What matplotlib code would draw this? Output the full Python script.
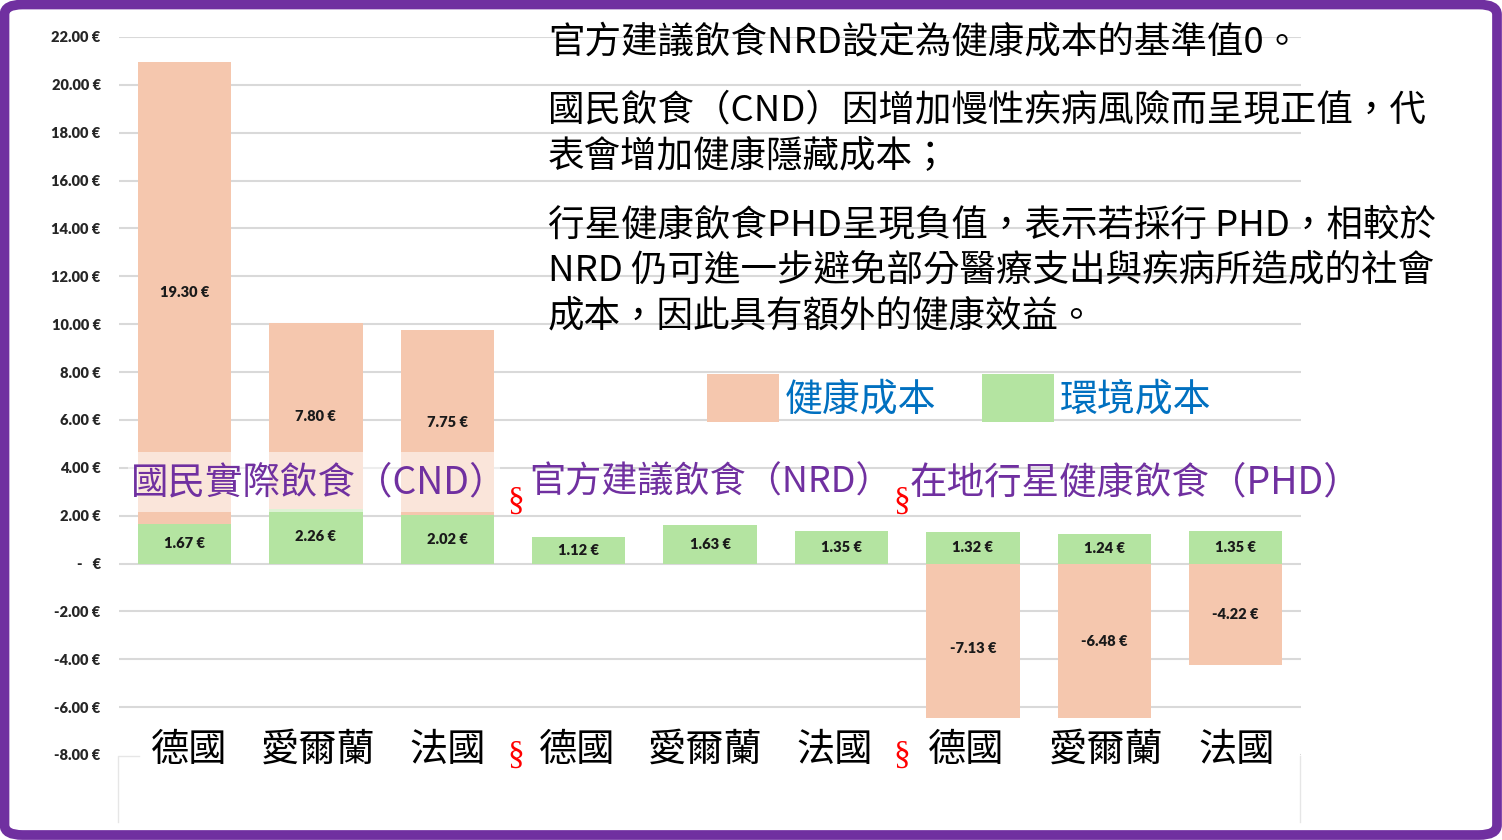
import matplotlib
matplotlib.use("Agg")
import matplotlib.pyplot as plt
from matplotlib.patches import Rectangle, FancyBboxPatch, Patch
from matplotlib.transforms import blended_transform_factory, offset_copy
from matplotlib.lines import Line2D

plt.rcParams['font.family'] = ['Noto Sans CJK TC', 'DejaVu Sans']

# ---------------- data ----------------
countries = ["德國", "愛爾蘭", "法國", "德國", "愛爾蘭", "法國", "德國", "愛爾蘭", "法國"]
groups = ["國民實際飲食（CND）", "官方建議飲食（NRD）", "在地行星健康飲食（PHD）"]
env_cost = [1.67, 2.26, 2.02, 1.12, 1.63, 1.35, 1.32, 1.24, 1.35]
health_cost = [19.30, 7.80, 7.75, 0.0, 0.0, 0.0, -7.13, -6.48, -4.22]
yticks = list(range(-8, 23, 2))
legend_labels = ["健康成本", "環境成本"]
notes = [
    "官方建議飲食NRD設定為健康成本的基準值0。",
    "國民飲食（CND）因增加慢性疾病風險而呈現正值，代",
    "表會增加健康隱藏成本；",
    "行星健康飲食PHD呈現負值，表示若採行 PHD，相較於",
    "NRD 仍可進一步避免部分醫療支出與疾病所造成的社會",
    "成本，因此具有額外的健康效益。",
]

# ---------------- style ----------------
W, H = 1502, 840
PINK = "#F5C7AE"
GREEN = "#B4E4A1"
GRID = "#D9D9D9"
PURPLE = "#7030A0"
BLUE = "#0070C0"
RED = "#FF0000"
LBL_FONT = ["Lato", "DejaVu Sans"]
label_shift_px = [5, 2, 0, -1, -5, -7, -7, 2, 1]

def fx(x):
    return x / W

def fy(y):
    return 1 - y / H

fig = plt.figure(figsize=(W / 100, H / 100), dpi=100)
fig.patch.set_facecolor("white")

ax_left, ax_right, ax_top, ax_bot = 118.8, 1301.4, 37, 755
ax = fig.add_axes([fx(ax_left), fy(ax_bot), (ax_right - ax_left) / W, (ax_bot - ax_top) / H])
ax.set_xlim(-0.5, len(countries) - 0.5)
ax.set_ylim(-8, 22)
for s in ax.spines.values():
    s.set_visible(False)
ax.set_yticks(yticks)
ax.yaxis.grid(True, color=GRID, linewidth=1.5)
ax.set_axisbelow(True)
ax.set_xticks([])
ax.tick_params(axis='y', length=0, pad=13)

def fmt(v):
    if v == 0:
        return "-   €"
    return f"{v:.2f} €"

ax.set_yticklabels([fmt(v) for v in yticks], fontfamily=LBL_FONT,
                   fontweight="heavy", fontsize=10.5, color="#262626")

x = list(range(len(countries)))
bw = 0.71
ax.bar(x, env_cost, width=bw, color=GREEN, zorder=2)
h_bottom = [e if h > 0 else 0 for e, h in zip(env_cost, health_cost)]
ax.bar(x, health_cost, width=bw, bottom=h_bottom, color=PINK, zorder=2)

for i in x:
    ax.text(i, env_cost[i] / 2, fmt(env_cost[i]), ha="center", va="center",
            fontfamily=LBL_FONT, fontweight="heavy", fontsize=10.5, color="#1a1a1a", zorder=3)
    if health_cost[i] != 0:
        ax.text(i, h_bottom[i] + health_cost[i] / 2, fmt(health_cost[i]), ha="center",
                va="center", fontfamily=LBL_FONT, fontweight="heavy", fontsize=10.5,
                color="#1a1a1a", zorder=3)

# white cover at bottom (over plot area)
ax_h = ax_bot - ax_top
def ay(y):
    return (ax_bot - y) / ax_h
def axx(xp):
    return (xp - ax_left) / (ax_right - ax_left)

ax.add_patch(Rectangle((axx(ax_left), ay(828)), axx(1300) - axx(ax_left), ay(718) - ay(828),
                       transform=ax.transAxes, facecolor="white", edgecolor="none",
                       clip_on=False, zorder=4))
# faint outline fragment
ax.add_line(Line2D([axx(118), axx(118), axx(139)], [ay(822), ay(756), ay(756)],
                   transform=ax.transAxes, color="#E6E6E6", lw=1, clip_on=False, zorder=4.5))
ax.add_line(Line2D([axx(1300), axx(1300)], [ay(822), ay(756)],
                   transform=ax.transAxes, color="#E6E6E6", lw=1, clip_on=False, zorder=4.5))

# semi-transparent band behind CND label
ax.add_patch(Rectangle((axx(128), ay(512)), axx(500) - axx(128), ay(452) - ay(512),
                       transform=ax.transAxes, facecolor="white", edgecolor="none",
                       alpha=0.55, clip_on=False, zorder=4))

# country labels
tb = blended_transform_factory(ax.transData, fig.transFigure)
for i, c in enumerate(countries):
    tr = offset_copy(tb, fig=fig, x=label_shift_px[i], y=0, units="dots")
    ax.text(i, fy(750), c, transform=tr, ha="center", va="center", fontsize=27.5,
            color="black", zorder=6, clip_on=False)

# group labels
gx = [131, 529, 910]
gsize = [27, 26.0, 27]
for g, xp, fs in zip(groups, gx, gsize):
    fig.text(fx(xp), fy(483), g, ha="left", va="center", fontsize=fs, color=PURPLE, zorder=7)

for xp in [516, 902]:
    fig.text(fx(xp), fy(502), "§", ha="center", va="center", fontsize=24,
             color=RED, fontfamily="Liberation Serif", zorder=7)
    fig.text(fx(xp), fy(755), "§", ha="center", va="center", fontsize=24,
             color=RED, fontfamily="Liberation Serif", zorder=7)

# notes (top-right)
ny = [42, 110, 157, 226, 271, 317]
for t, yp in zip(notes, ny):
    fig.text(fx(548), fy(yp), t, ha="left", va="center", fontsize=26.3, color="black", zorder=7)

# legend
handles = [Patch(facecolor=PINK, edgecolor="none"), Patch(facecolor=GREEN, edgecolor="none")]
leg = fig.legend(handles, legend_labels, loc="center left",
                 bbox_to_anchor=(fx(707), fy(398)), ncol=2, frameon=False,
                 fontsize=27.3, labelcolor=BLUE, handlelength=1.9, handleheight=1.6,
                 handletextpad=0.15, columnspacing=1.2, borderpad=0, borderaxespad=0)

# purple border
fig.add_artist(FancyBboxPatch((fx(4.5), fy(835)), fx(1497) - fx(4.5), fy(4.5) - fy(835),
                              boxstyle="round,pad=0,rounding_size=0.012",
                              transform=fig.transFigure, facecolor="none",
                              edgecolor=PURPLE, linewidth=7, zorder=10))

fig.savefig("out.png", dpi=100)
